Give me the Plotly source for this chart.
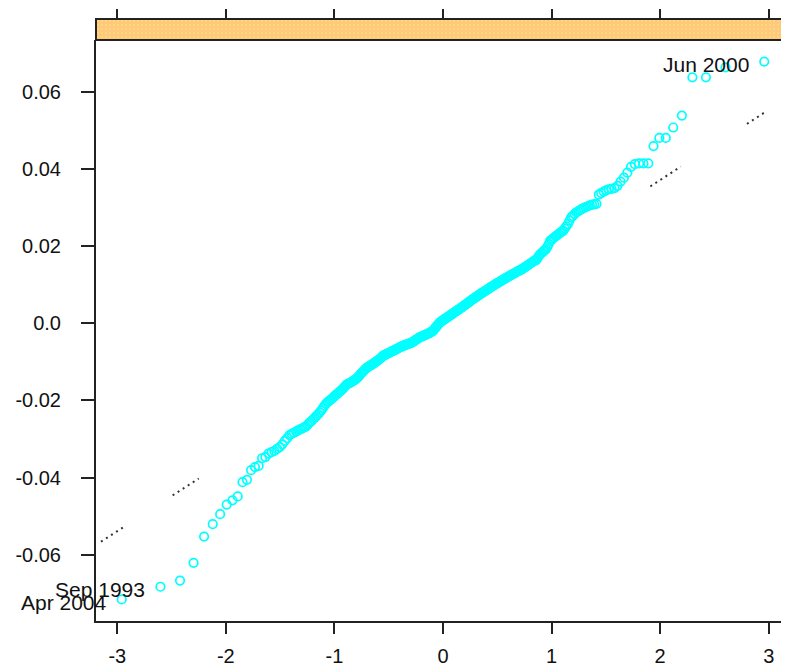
import plotly.graph_objects as go
from statistics import NormalDist

# Monthly returns (sorted sample values)
returns = [
    -0.0716, -0.0683, -0.0667, -0.0621, -0.0553, -0.0521, -0.0495, -0.0470, -0.0459, -0.0449,
    -0.0412, -0.0406, -0.0381, -0.0373, -0.0370, -0.0350, -0.0347, -0.0338, -0.0334, -0.0331,
    -0.0326, -0.0321, -0.0314, -0.0305, -0.0298, -0.0290, -0.0287, -0.0284, -0.0281, -0.0278,
    -0.0275, -0.0273, -0.0270, -0.0268, -0.0263, -0.0258, -0.0254, -0.0249, -0.0245, -0.0240,
    -0.0236, -0.0231, -0.0226, -0.0220, -0.0214, -0.0209, -0.0205, -0.0202, -0.0199, -0.0196,
    -0.0193, -0.0189, -0.0186, -0.0183, -0.0180, -0.0177, -0.0174, -0.0171, -0.0167, -0.0163,
    -0.0160, -0.0158, -0.0156, -0.0155, -0.0153, -0.0151, -0.0149, -0.0147, -0.0145, -0.0142,
    -0.0139, -0.0136, -0.0132, -0.0129, -0.0126, -0.0123, -0.0120, -0.0117, -0.0115, -0.0113,
    -0.0112, -0.0110, -0.0108, -0.0107, -0.0105, -0.0103, -0.0101, -0.0099, -0.0097, -0.0095,
    -0.0093, -0.0091, -0.0089, -0.0086, -0.0084, -0.0083, -0.0082, -0.0080, -0.0079, -0.0078,
    -0.0077, -0.0076, -0.0074, -0.0073, -0.0072, -0.0071, -0.0070, -0.0068, -0.0067, -0.0066,
    -0.0065, -0.0063, -0.0062, -0.0061, -0.0060, -0.0059, -0.0058, -0.0057, -0.0056, -0.0055,
    -0.0055, -0.0054, -0.0053, -0.0052, -0.0051, -0.0050, -0.0049, -0.0047, -0.0046, -0.0044,
    -0.0043, -0.0041, -0.0040, -0.0038, -0.0037, -0.0036, -0.0035, -0.0034, -0.0033, -0.0032,
    -0.0031, -0.0030, -0.0029, -0.0028, -0.0027, -0.0026, -0.0025, -0.0023, -0.0022, -0.0021,
    -0.0019, -0.0016, -0.0013, -0.0011, -0.0008, -0.0005, -0.0003, 0.0000, 0.0002, 0.0004,
    0.0005, 0.0007, 0.0008, 0.0010, 0.0011, 0.0013, 0.0014, 0.0016, 0.0017, 0.0019,
    0.0020, 0.0022, 0.0023, 0.0025, 0.0026, 0.0028, 0.0029, 0.0031, 0.0032, 0.0034,
    0.0035, 0.0037, 0.0038, 0.0040, 0.0041, 0.0043, 0.0045, 0.0046, 0.0048, 0.0049,
    0.0051, 0.0053, 0.0054, 0.0056, 0.0058, 0.0060, 0.0061, 0.0063, 0.0064, 0.0066,
    0.0067, 0.0069, 0.0070, 0.0072, 0.0074, 0.0075, 0.0077, 0.0078, 0.0080, 0.0081,
    0.0083, 0.0084, 0.0086, 0.0087, 0.0089, 0.0091, 0.0092, 0.0094, 0.0095, 0.0097,
    0.0098, 0.0100, 0.0101, 0.0103, 0.0104, 0.0106, 0.0107, 0.0109, 0.0110, 0.0112,
    0.0113, 0.0115, 0.0116, 0.0118, 0.0119, 0.0121, 0.0122, 0.0124, 0.0125, 0.0127,
    0.0128, 0.0130, 0.0131, 0.0133, 0.0134, 0.0136, 0.0137, 0.0139, 0.0140, 0.0142,
    0.0144, 0.0146, 0.0148, 0.0150, 0.0152, 0.0154, 0.0156, 0.0158, 0.0160, 0.0162,
    0.0163, 0.0167, 0.0172, 0.0177, 0.0180, 0.0183, 0.0186, 0.0189, 0.0192, 0.0198,
    0.0205, 0.0213, 0.0216, 0.0219, 0.0222, 0.0225, 0.0228, 0.0231, 0.0234, 0.0237,
    0.0239, 0.0245, 0.0251, 0.0257, 0.0266, 0.0274, 0.0278, 0.0283, 0.0287, 0.0290,
    0.0293, 0.0296, 0.0298, 0.0301, 0.0303, 0.0305, 0.0307, 0.0308, 0.0309, 0.0333,
    0.0337, 0.0341, 0.0344, 0.0347, 0.0348, 0.0350, 0.0356, 0.0367, 0.0377, 0.0390,
    0.0405, 0.0412, 0.0414, 0.0414, 0.0414, 0.0459, 0.0480, 0.0480, 0.0507, 0.0538,
    0.0637, 0.0637, 0.0663, 0.0678,
]

x_ticks = [-3, -2, -1, 0, 1, 2, 3]
x_tick_text = ["-3", "-2", "-1", "0", "1", "2", "3"]
y_ticks = [-0.06, -0.04, -0.02, 0.0, 0.02, 0.04, 0.06]
y_tick_text = ["-0.06", "-0.04", "-0.02", "0.0", "0.02", "0.04", "0.06"]

# labelled extreme observations (rank in the sorted sample)
label_text = ["Apr 2004", "Sep 1993", "Jun 2000"]
label_rank = [1, 2, 324]

# dotted reference line (intercept, slope) and the visible dotted pieces
ref_intercept = 0.0007
ref_slope = 0.0182
ref_seg_start = [-3.15, -2.49, 1.91, 2.80]
ref_seg_end = [-2.94, -2.25, 2.19, 2.97]

# ---- QQ transform ----
ys = sorted(returns)
n = len(ys)
nd = NormalDist()
qs = [nd.inv_cdf((i + 0.5) / n) for i in range(n)]

FONT = "Liberation Sans, Arial, sans-serif"
AXC = "#222222"

# page body adds an 8px offset, so the figure is sized to fill the rest of the window
W, H = 781, 656
mt, mb, ml, mr = 11, 43, 88, 0
plot_h = H - mt - mb
strip_h = 21
ydom_top = (plot_h - strip_h) / plot_h

xr = [-3.196, 3.187]
yr = [-0.07718, 0.07338]

fig = go.Figure()

# strip (patterned orange band)
fig.add_trace(go.Bar(
    x=[0.5], y=[1], width=[1.3], xaxis="x3", yaxis="y3",
    marker=dict(color="#FFC77F", line=dict(width=0),
                pattern=dict(shape=".", fgcolor="#FFEE66", size=4, solidity=0.25)),
    hoverinfo="skip", showlegend=False,
))

# reference line pieces
rx, ry = [], []
for a, b in zip(ref_seg_start, ref_seg_end):
    rx += [a, b, None]
    ry += [ref_intercept + ref_slope * a, ref_intercept + ref_slope * b, None]
fig.add_trace(go.Scatter(
    x=rx, y=ry, mode="lines", xaxis="x", yaxis="y",
    line=dict(color="#333333", width=2, dash="2px,4px"),
    hoverinfo="skip", showlegend=False,
))

# points
fig.add_trace(go.Scatter(
    x=qs, y=ys, mode="markers", xaxis="x", yaxis="y",
    marker=dict(symbol="circle-open", size=8.5, color="#00FFFF", line=dict(width=1.7, color="#00FFFF")),
    showlegend=False,
))

# dummy trace to register top tick axis
fig.add_trace(go.Scatter(x=[0], y=[0], xaxis="x2", yaxis="y", mode="markers",
                         marker=dict(opacity=0), hoverinfo="skip", showlegend=False))

for t, r in zip(label_text, label_rank):
    fig.add_annotation(x=qs[r - 1], y=ys[r - 1], text=t, showarrow=False,
                       xanchor="right", yanchor="middle", xshift=-13, yshift=-3,
                       font=dict(family=FONT, size=21, color="#111111"), xref="x", yref="y")

fig.update_layout(
    width=W, height=H,
    margin=dict(l=ml, r=mr, t=mt, b=mb, pad=0, autoexpand=False),
    paper_bgcolor="white", plot_bgcolor="white",
    showlegend=False,
    font=dict(family=FONT, size=20, color="#111111"),
    xaxis=dict(range=xr, tickvals=x_ticks, ticktext=x_tick_text, anchor="y",
               showline=True, linecolor=AXC, linewidth=2, mirror=False,
               ticks="outside", ticklen=11, tickwidth=2, tickcolor=AXC,
               showgrid=False, zeroline=False, tickfont=dict(size=20),
               ticklabelstandoff=5, automargin=False),
    xaxis2=dict(range=xr, tickvals=x_ticks, overlaying="x", side="top",
                anchor="free", position=1, showline=False,
                ticks="outside", ticklen=10, tickwidth=2, tickcolor=AXC,
                showticklabels=False, showgrid=False, zeroline=False, automargin=False),
    yaxis=dict(range=yr, domain=[0, ydom_top], tickvals=y_ticks, ticktext=y_tick_text,
               anchor="x", showline=True, linecolor=AXC, linewidth=2,
               ticks="outside", ticklen=13, tickwidth=2, tickcolor=AXC,
               showgrid=False, zeroline=False, tickfont=dict(size=20),
               ticklabelstandoff=16, automargin=False),
    xaxis3=dict(domain=[0, 1], range=[0, 1], visible=False, anchor="y3", automargin=False),
    yaxis3=dict(domain=[ydom_top, 1], range=[0, 1], visible=False, anchor="x3", automargin=False),
    bargap=0,
    shapes=[
        dict(type="rect", xref="paper", yref="paper", x0=0, x1=1.05, y0=ydom_top, y1=1,
             line=dict(color=AXC, width=2), fillcolor="rgba(0,0,0,0)", layer="above"),
    ],
)

fig.write_html("out.html")
